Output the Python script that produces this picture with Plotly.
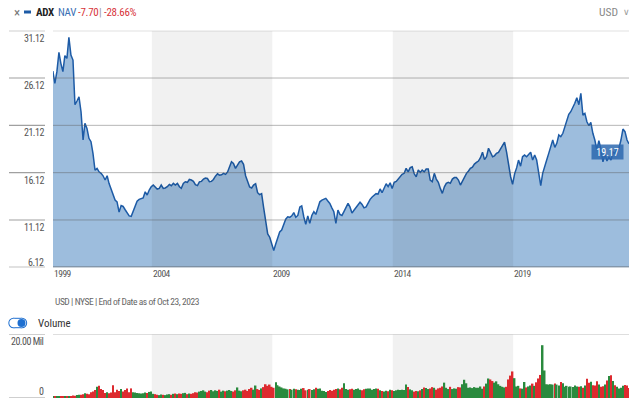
import pandas as pd
import plotly.graph_objects as go

# ---------------- data ----------------
end_date = "2023-10-23"
nav = [
    26.86, 25.56, 26.79, 28.84, 27.67, 26.79, 28.48, 28.2, 30.42, 28.55,
    28.02, 23.3, 23.69, 24.14, 22.56, 19.57, 21.33, 20.8, 19.75, 19.39,
    18.16, 16.39, 16.57, 16.21, 16.05, 15.79, 15.34, 15.79, 14.99, 14.46,
    13.93, 13.22, 13.04, 11.95, 12.65, 12.55, 12.2, 11.85, 11.55, 11.5,
    12.0, 12.75, 13.1, 13.3, 13.4, 13.45, 14.1, 13.75, 14.28, 14.63,
    14.81, 14.63, 14.39, 14.46, 14.81, 14.46, 14.5, 14.63, 14.88, 14.74,
    14.99, 14.81, 14.99, 14.63, 14.46, 14.99, 15.16, 15.1, 15.4, 15.34,
    15.2, 14.85, 14.75, 15.15, 15.2, 15.44, 15.55, 15.5, 15.16, 15.2,
    15.4, 15.75, 16.0, 15.85, 15.9, 16.05, 15.94, 16.2, 16.7, 17.27,
    17.1, 16.57, 16.92, 17.27, 17.35, 17.0, 15.8, 15.2, 14.6, 14.5,
    14.8, 14.95, 14.0, 13.8, 13.9, 12.4, 11.0, 9.65, 9.3, 8.7,
    7.9, 8.6, 9.3, 9.85, 10.05, 10.7, 11.2, 11.45, 11.4, 11.56,
    11.9, 11.4, 11.6, 12.5, 12.6, 11.46, 10.65, 11.56, 10.76, 11.6,
    11.99, 11.71, 12.52, 13.04, 13.22, 13.33, 13.4, 13.12, 12.87, 12.4,
    11.99, 10.76, 12.17, 11.71, 11.6, 12.0, 12.5, 12.87, 12.5, 11.85,
    12.15, 12.4, 12.65, 13.0, 12.75, 12.4, 12.5, 12.95, 13.3, 13.55,
    13.75, 13.9, 13.85, 14.4, 14.0, 14.55, 14.95, 14.65, 15.05, 14.45,
    15.1, 15.2, 15.44, 15.69, 15.94, 16.05, 16.57, 16.2, 16.65, 16.75,
    16.0, 15.69, 16.4, 16.15, 16.4, 16.2, 16.5, 16.5, 15.34, 15.16,
    16.05, 15.44, 15.1, 14.46, 13.93, 14.63, 14.99, 15.1, 14.99, 15.44,
    15.6, 15.6, 15.34, 14.81, 15.2, 15.69, 16.05, 16.29, 16.57, 16.7,
    17.03, 17.2, 17.35, 17.7, 18.27, 17.5, 17.8, 18.7, 18.16, 17.8,
    17.9, 18.16, 18.27, 18.62, 19.04, 19.35, 18.3, 16.92, 15.69, 14.88,
    16.0, 16.65, 17.45, 16.8, 17.8, 17.98, 17.8, 18.05, 18.27, 17.45,
    17.98, 17.45, 16.21, 14.74, 16.05, 16.92, 17.45, 18.16, 18.9, 19.57,
    18.79, 19.22, 20.1, 19.92, 20.28, 20.97, 21.5, 22.28, 22.56, 22.98,
    23.45, 24.04, 23.3, 24.5, 22.2, 22.38, 21.5, 21.08, 21.43, 20.28,
    19.57, 18.51, 19.5, 18.62, 17.27, 18.16, 17.35, 17.8, 17.45, 18.3,
    18.16, 18.62, 18.69, 19.57, 20.73, 20.45, 19.57, 19.17,
]
volume_mil = [
    0.4, 0.6,
    0.5, 0.4, 0.6, 0.5, 0.4, 0.4, 0.5, 0.6, 0.8, 0.7, 0.9, 1.0,
    1.0, 1.2, 1.5, 1.3, 1.2, 1.8, 2.0, 2.5, 3.5, 3.8, 2.8, 2.5,
    1.6, 1.8, 1.5, 1.7, 4.0, 1.8, 2.6, 2.2, 2.8, 2.0, 2.5, 3.0,
    1.8, 3.0, 1.8, 1.7, 1.6, 1.5, 1.4, 1.5, 1.7, 1.6, 1.9, 2.0,
    1.3, 1.2, 1.0, 0.9, 1.1, 1.0, 0.9, 1.1, 1.2, 1.0, 1.3, 1.4,
    1.2, 1.4, 1.3, 1.5, 1.6, 1.2, 1.4, 1.3, 1.5, 1.8, 1.7, 2.0,
    2.2, 2.4, 2.0, 1.8, 2.3, 2.5, 2.1, 2.4, 2.2, 2.6, 2.0, 2.3,
    2.1, 2.3, 2.5, 2.2, 2.0, 2.4, 3.3, 2.3, 2.1, 2.4, 2.6, 2.2,
    2.8, 3.2, 2.6, 3.9, 2.8, 2.5, 3.0, 3.4, 4.3, 3.8, 4.2, 3.5,
    3.2, 4.9, 4.0, 3.6, 3.3, 3.0, 2.9, 2.7, 2.8, 2.6, 2.9, 2.7,
    2.6, 2.5, 2.9, 3.1, 2.4, 2.6, 2.8, 2.5, 2.7, 3.2, 2.9, 3.0,
    2.3, 2.2, 1.9, 2.2, 2.5, 2.3, 2.6, 2.8, 3.0, 2.7, 3.2, 4.6,
    2.8, 2.6, 2.7, 2.9, 2.6, 2.8, 3.0, 2.6, 2.4, 2.7, 2.9, 3.0,
    3.0, 2.6, 2.8, 3.0, 2.9, 2.4, 2.2, 2.0, 2.3, 2.1, 2.6, 2.4,
    2.2, 2.4, 2.6, 2.5, 2.6, 2.5, 4.2, 3.4, 2.7, 2.4, 2.0, 2.2,
    2.1, 2.4, 2.8, 3.3, 3.1, 2.8, 3.0, 3.4, 3.2, 2.6, 3.0, 3.2,
    3.6, 4.8, 3.2, 2.8, 3.5, 2.8, 3.0, 2.9, 3.4, 3.3, 4.3, 5.7,
    4.6, 3.2, 3.3, 3.1, 3.4, 3.2, 3.2, 3.6, 2.9, 3.6, 4.5, 6.1,
    5.8, 5.3, 4.8, 5.2, 4.3, 3.8, 3.5, 3.3, 3.5, 5.8, 7.0, 8.3,
    6.2, 3.6, 3.8, 3.0, 2.9, 5.0, 3.3, 3.6, 3.9, 4.5, 3.8, 4.9,
    6.1, 7.2, 16.5, 8.6, 4.3, 4.2, 4.3, 4.2, 4.5, 4.2, 3.9, 5.0,
    4.6, 3.5, 3.8, 3.5, 3.6, 3.4, 3.9, 3.6, 3.5, 3.7, 3.2, 3.9,
    6.0, 4.8, 5.1, 4.0, 3.9, 5.2, 4.2, 3.5, 3.7, 4.2, 5.5, 6.9,
    7.1, 5.3, 4.0, 3.5, 3.0, 3.2, 3.8, 4.1, 3.9, 3.1,
]
y_ticks = [6.12, 11.12, 16.12, 21.12, 26.12, 31.12]
x_tick_dates = ["1999-11-25", "2004-01-01", "2009-01-01", "2014-01-01", "2019-01-01"]
x_tick_labels = ["1999", "2004", "2009", "2014", "2019"]
bands = [("2004-01-01", "2009-01-01"), ("2014-01-01", "2019-01-01")]
last_value = "19.17"

# ---------------- layout helpers ----------------
W, H = 640, 418
ML, MR = 53, 11
PW = W - ML - MR
FONT = "Roboto Condensed, Open Sans Condensed, sans-serif"


def xp(px):
    return (px - ML) / PW


def yp(py):
    return (H - py) / H


def ls(s, sp):
    return f"<span style='letter-spacing:{sp}px'>{s}</span>"


end = pd.Timestamp(end_date)
n = len(nav)
dates = [end - pd.DateOffset(months=n - 1 - k) for k in range(n)]
vdates = dates[:len(volume_mil)]
volumes = [v * 1e6 for v in volume_mil]
bar_colors = ["#2a8a3e"] + [
    ("#2a8a3e" if nav[k] >= nav[k - 1] else "#dd2a2f") for k in range(1, len(volumes))
]

fig = go.Figure()
fig.add_trace(go.Scatter(
    x=dates, y=nav, mode="lines", fill="tozeroy",
    line=dict(color="#1d5ba6", width=1.5),
    fillcolor="rgb(157,189,221)", hoverinfo="skip", xaxis="x", yaxis="y",
))
fig.add_trace(go.Bar(
    x=vdates, y=volumes, marker=dict(color=bar_colors, line=dict(width=0)),
    hoverinfo="skip", xaxis="x2", yaxis="y2",
))

x_range = ["1999-11-25", end_date]
fig.update_layout(
    width=W, height=H,
    margin=dict(l=ML, r=MR, t=0, b=0),
    paper_bgcolor="white", plot_bgcolor="white",
    showlegend=False, bargap=0.15,
    font=dict(family=FONT, color="#555"),
    xaxis=dict(domain=[0, 1], range=x_range, type="date", showgrid=False,
               showticklabels=False, zeroline=False, anchor="y", fixedrange=True),
    yaxis=dict(domain=[yp(267.3), yp(30.7)], range=[6.12, 31.12], showgrid=False,
               showticklabels=False, zeroline=False, fixedrange=True),
    xaxis2=dict(domain=[0, 1], range=x_range, type="date", showgrid=False,
                showticklabels=False, zeroline=False, anchor="y2", matches="x"),
    yaxis2=dict(domain=[yp(398), yp(334)], range=[0, 20e6], showgrid=False,
                showticklabels=False, zeroline=False),
)

shapes = []
for a, b in bands:
    shapes.append(dict(type="rect", xref="x", yref="y", x0=a, x1=b, y0=6.12, y1=31.12,
                       fillcolor="rgba(0,0,0,0.055)", line=dict(width=0), layer="above"))
    shapes.append(dict(type="rect", xref="x2", yref="y2", x0=a, x1=b, y0=0, y1=20e6,
                       fillcolor="#f1f1f1", line=dict(width=0), layer="below"))
for v in y_ticks:
    bottom = v == y_ticks[0]
    col = "rgba(90,90,90,0.75)" if bottom else "rgba(90,90,90,0.45)"
    shapes.append(dict(type="line", xref="paper", yref="y", x0=0, x1=1, y0=v, y1=v,
                       line=dict(color=col, width=1.5 if bottom else 1), layer="above"))
    shapes.append(dict(type="line", xref="paper", yref="y", x0=xp(9), x1=xp(45), y0=v, y1=v,
                       line=dict(color="#a0a0a0" if not bottom else "#888", width=1.2)))
shapes.append(dict(type="line", xref="paper", yref="y2", x0=0, x1=1, y0=20e6, y1=20e6,
                   line=dict(color="#bdbdbd", width=1.2)))
for v in (0, 20e6):
    shapes.append(dict(type="line", xref="paper", yref="y2", x0=xp(9), x1=xp(45), y0=v, y1=v,
                       line=dict(color="#a0a0a0", width=1.2)))
shapes.append(dict(type="rect", xref="paper", yref="paper", x0=xp(24), x1=xp(31),
                   y0=yp(13.5), y1=yp(10.5), fillcolor="#1d5ba6", line=dict(width=0)))
for r, col in ((5.2, "#1e6fd0"), (4.2, "white")):
    for cx in (13.5, 22):
        shapes.append(dict(type="circle", xref="paper", yref="paper",
                           x0=xp(cx - r), x1=xp(cx + r), y0=yp(323 + r), y1=yp(323 - r),
                           fillcolor=col, line=dict(width=0)))
    shapes.append(dict(type="rect", xref="paper", yref="paper", x0=xp(13.5), x1=xp(22),
                       y0=yp(323 + r), y1=yp(323 - r), fillcolor=col, line=dict(width=0)))
shapes.append(dict(type="circle", xref="paper", yref="paper", x0=xp(17.5), x1=xp(25.5),
                   y0=yp(327), y1=yp(319), fillcolor="#1e6fd0", line=dict(width=0)))
fig.update_layout(shapes=shapes)

ann = []
for v in y_ticks:
    shift = 5 if v == y_ticks[0] else -7.5
    ann.append(dict(text=ls(f"{v:.2f}", -0.5), xref="paper", yref="y", x=xp(45.5), y=v,
                    yshift=shift, xanchor="right", yanchor="middle", showarrow=False,
                    font=dict(size=10, color="#555")))
for d, t in zip(x_tick_dates, x_tick_labels):
    ann.append(dict(text=ls(t, -0.5), xref="x", yref="paper", x=d, y=yp(273.5), xanchor="left",
                    yanchor="middle", showarrow=False, xshift=-1,
                    font=dict(size=9.5, color="#555")))
ann.append(dict(text=ls("20.00 Mil", -0.5), xref="paper", yref="y2", x=xp(45.5), y=20e6,
                yshift=-7.7, xanchor="right", yanchor="middle", showarrow=False,
                font=dict(size=10, color="#555")))
ann.append(dict(text="0", xref="paper", yref="y2", x=xp(45.5), y=0, yshift=6.3,
                xanchor="right", yanchor="middle", showarrow=False,
                font=dict(size=10, color="#555")))
hy = yp(12)
for txt, px, col, bold in (("×", 12, "#777", False), ("ADX", 33.5, "#222", True),
                           ("NAV", 55.5, "#3b70b4", False), ("-7.70", 75.5, "#d8353b", False),
                           ("|", 96.5, "#999", False), ("-28.66%", 101.5, "#d8353b", False)):
    body = ls(txt, -0.3)
    ann.append(dict(text=f"<b>{body}</b>" if bold else body, xref="paper", yref="paper",
                    x=xp(px), y=hy, xanchor="left", yanchor="middle", showarrow=False,
                    font=dict(size=13 if txt == "×" else 11, color=col)))
ann.append(dict(text="USD", xref="paper", yref="paper", x=xp(619.5), y=hy, xanchor="right",
                yanchor="middle", showarrow=False, font=dict(size=11.5, color="#888")))
ann.append(dict(text="∨", xref="paper", yref="paper", x=xp(621), y=hy, xanchor="left",
                yanchor="middle", showarrow=False,
                font=dict(size=9, color="#999", family="DejaVu Sans")))
ann.append(dict(text=ls("USD | NYSE | End of Date as of Oct 23, 2023", -0.45), xref="paper",
                yref="paper", x=xp(52.5), y=yp(301), xanchor="left", yanchor="middle",
                showarrow=False, font=dict(size=9.5, color="#666")))
ann.append(dict(text="Volume", xref="paper", yref="paper", x=xp(35.5), y=yp(323),
                xanchor="left", yanchor="middle", showarrow=False,
                font=dict(size=11, color="#333")))
ann.append(dict(text=last_value, xref="paper", yref="paper", x=xp(607.5), y=yp(152),
                xanchor="center", yanchor="middle", showarrow=False, width=31, height=14,
                bgcolor="rgba(45,105,175,0.85)", borderpad=0,
                font=dict(size=10, color="white")))
fig.update_layout(annotations=ann)

fig.write_html("out.html")
